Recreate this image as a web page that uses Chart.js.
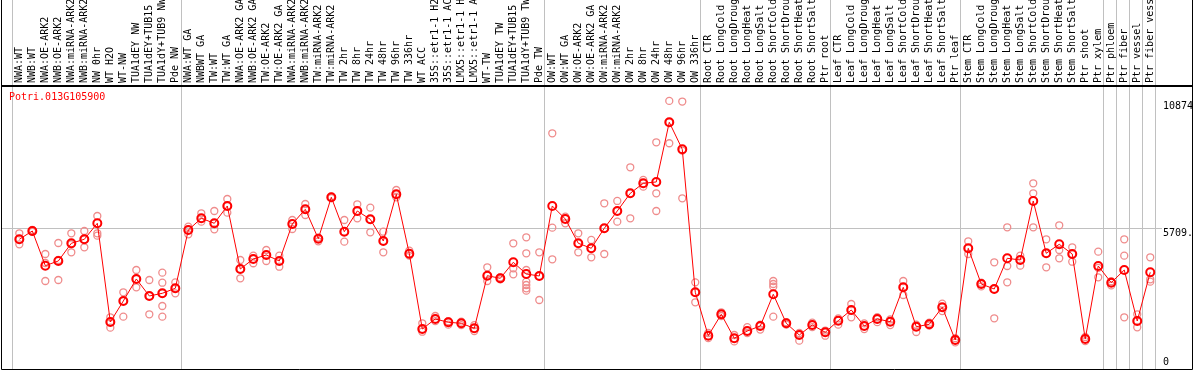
<!DOCTYPE html>
<html>
<head>
<meta charset="utf-8">
<script src="https://cdn.jsdelivr.net/npm/chart.js@4"></script>
<style>
  body { margin: 0; background: #fff; }
  canvas { display: block; }
</style>
</head>
<body>
<canvas id="grafico" width="1194" height="370"></canvas>
<script>
const geneName = 'Potri.013G105900';

const categories = [
  'NWA:WT', 'NWB:WT', 'NWA:OE-ARK2', 'NWB:OE-ARK2', 'NWA:miRNA-ARK2', 'NWB:miRNA-ARK2',
  'NW 0hr', 'WT H2O', 'WT-NW', 'TUA1dEY NW', 'TUA1dEY+TUB15 NW', 'TUA1dY+TUB9 NW', 'Pde NW',
  'NWA:WT GA', 'NWBWT GA', 'TW:WT', 'TW:WT GA', 'NWA:OE-ARK2 GA', 'NWB:OE-ARK2 GA',
  'TW:OE-ARK2', 'TW:OE-ARK2 GA', 'NWA:miRNA-ARK2', 'NWB:miRNA-ARK2', 'TW:miRNA-ARK2',
  'TW:miRNA-ARK2', 'TW 2hr', 'TW 8hr', 'TW 24hr', 'TW 48hr', 'TW 96hr', 'TW 336hr', 'WT ACC',
  '35S::etr1-1 H2O', '35S::etr1-1 ACC', 'LMX5::etr1-1 H2O', 'LMX5::etr1-1 ACC', 'WT-TW',
  'TUA1dEY TW', 'TUA1dEY+TUB15 TW', 'TUA1dY+TUB9 TW', 'Pde TW',
  'OW:WT', 'OW:WT GA', 'OW:OE-ARK2', 'OW:OE-ARK2 GA', 'OW:miRNA-ARK2', 'OW:miRNA-ARK2',
  'OW 2hr', 'OW 8hr', 'OW 24hr', 'OW 48hr', 'OW 96hr', 'OW 336hr',
  'Root CTR', 'Root LongCold', 'Root LongDrought', 'Root LongHeat', 'Root LongSalt',
  'Root ShortCold', 'Root ShortDrought', 'Root ShortHeat', 'Root ShortSalt', 'Ptr root',
  'Leaf CTR', 'Leaf LongCold', 'Leaf LongDrought', 'Leaf LongHeat', 'Leaf LongSalt',
  'Leaf ShortCold', 'Leaf ShortDrought', 'Leaf ShortHeat', 'Leaf ShortSalt', 'Ptr leaf',
  'Stem CTR', 'Stem LongCold', 'Stem LongDrought', 'Stem LongHeat', 'Stem LongSalt',
  'Stem ShortCold', 'Stem ShortDrought', 'Stem ShortHeat', 'Stem ShortSalt', 'Ptr shoot',
  'Ptr xylem', 'Ptr phloem', 'Ptr fiber', 'Ptr vessel', 'Ptr fiber vessel'
];

const meanValues = [
  5262, 5599, 4191, 4382, 5100, 5262, 5911, 1907, 2759, 3651, 2962, 3071, 3274,
  5639, 6114, 5911, 6613, 4057, 4463, 4625, 4382, 5883, 6479, 5287, 6966, 5570, 6410,
  6073, 5193, 7088, 4678, 1623, 2029, 1895, 1854, 1651, 3785, 3679, 4329, 3854, 3773,
  6613, 6086, 5100, 4897, 5708, 6410, 7128, 7534, 7587, 10009, 8913, 3112,
  1351, 2219, 1245, 1542, 1744, 3031, 1854, 1379, 1785, 1489,
  1960, 2394, 1744, 2029, 1919, 3314, 1716, 1813, 2503, 1177,
  4897, 3448, 3246, 4491, 4422, 6816, 4694, 5059, 4666, 1217, 4179,
  3501, 4016, 1947, 3923
];

const replicateValues = [
  [5505, 5262, 5059], [5640, 5599, 5560], [4666, 4300, 3570], [5112, 4423, 3611],
  [5505, 5061, 4734], [5599, 5262, 4937], [6207, 5505, 5408], [2097, 1907, 1676],
  [3112, 2759, 2122], [4016, 3651, 3314], [3611, 2962, 2219], [3907, 3501, 3071, 2556, 2122],
  [3516, 3274, 3071],
  [5773, 5639, 5464], [6317, 6114, 5976], [6410, 5911, 5667], [6897, 6613, 6341],
  [4422, 4057, 3679], [4597, 4463, 4289], [4828, 4625, 4382], [4597, 4382, 4150],
  [6045, 5883, 5680], [6694, 6479, 6248], [5330, 5287, 5180], [6993, 6966, 6930],
  [6045, 5570, 5165], [6681, 6410, 6114], [6544, 6073, 5546], [5570, 5193, 4734],
  [7262, 7088, 6966], [4800, 4678, 4600], [1854, 1623, 1513], [2150, 2029, 1940],
  [1940, 1895, 1800], [1920, 1854, 1780], [1780, 1651, 1540], [4126, 3785, 3570],
  [3720, 3679, 3640], [5100, 4085, 3842], [5343, 4694, 4016, 3542, 3408, 3274, 3177],
  [4734, 3773, 2799],
  [9562, 5733, 4450], [6179, 6086, 5911], [5505, 5100, 4734], [5234, 4897, 4532],
  [6722, 5708, 4666], [6816, 6410, 5976], [8183, 7128, 6114], [7668, 7534, 7396],
  [9197, 7128, 6410], [10874, 10009, 9157], [10850, 8857, 6925], [3516, 3112, 2706],
  [1460, 1351, 1250], [2300, 2219, 2150], [1380, 1245, 1120], [1700, 1542, 1460],
  [1800, 1744, 1600], [3570, 3448, 3339, 2122], [1900, 1854, 1800], [1460, 1379, 1150],
  [1880, 1785, 1700], [1560, 1489, 1350],
  [2050, 1960, 1800], [2637, 2394, 2097], [1850, 1744, 1620], [2100, 2029, 1900],
  [2010, 1919, 1780], [3570, 3314, 3002], [1800, 1716, 1500], [1880, 1813, 1760],
  [2650, 2503, 2350], [1250, 1177, 1080],
  [5181, 4897, 4666], [3500, 3448, 3350], [4329, 3246, 2057], [5749, 4179, 3517],
  [4597, 4422, 4191], [7534, 7128, 5749], [5262, 4694, 4126], [5830, 4828, 4491],
  [4937, 4666, 4353], [1300, 1217, 1130], [4759, 4100, 3720],
  [3560, 3501, 3390], [5262, 4597, 2097], [2219, 1947, 1692], [4532, 3639, 3542]
];

const yTickValues = [0, 5709.5, 10874];
const yTickLabels = ['0', '5709.5', '10874'];
// last category of each group, a grey separator is drawn after it
const groupEnds = [-1, 12, 40, 52, 62, 72, 83, 84, 85, 86, 87];

const meanData = meanValues.map((v, i) => ({ x: i, y: v }));
const replicateData = replicateValues.flatMap((reps, i) => reps.map(v => ({ x: i, y: v })));

const fonteMono = '"DejaVu Sans Mono", monospace';

const molduraPlugin = {
  id: 'moldura',
  beforeDatasetsDraw(chart) {
    const { ctx, chartArea, scales } = chart;
    ctx.save();
    ctx.strokeStyle = '#c0c0c0';
    ctx.lineWidth = 1;
    groupEnds.forEach(b => {
      const x = Math.round(scales.x.getPixelForValue(b + 0.4)) + 0.5;
      ctx.beginPath();
      ctx.moveTo(x, 0);
      ctx.lineTo(x, chartArea.bottom);
      ctx.stroke();
    });
    ctx.restore();
  },
  afterDraw(chart) {
    const { ctx, chartArea, scales } = chart;
    const w = chart.width;
    ctx.save();
    ctx.strokeStyle = '#000';
    ctx.lineWidth = 1;
    ctx.beginPath();
    ctx.moveTo(1.5, 0);
    ctx.lineTo(1.5, chart.height - 0.5);
    ctx.lineTo(w - 1.5, chart.height - 0.5);
    ctx.lineTo(w - 1.5, 0);
    ctx.stroke();
    ctx.lineWidth = 2;
    ctx.beginPath();
    ctx.moveTo(1, chartArea.top);
    ctx.lineTo(w - 1, chartArea.top);
    ctx.stroke();

    // nome do gene
    ctx.fillStyle = 'red';
    ctx.font = '10px ' + fonteMono;
    ctx.textBaseline = 'middle';
    ctx.textAlign = 'left';
    ctx.fillText(geneName, 9, 97);

    // rotulos do eixo y, dentro da moldura
    ctx.beginPath();
    ctx.rect(chartArea.right, chartArea.top, w - 2 - chartArea.right, chartArea.bottom - chartArea.top);
    ctx.clip();
    ctx.fillStyle = '#000';
    yTickValues.forEach((v, i) => {
      const y = scales.y.getPixelForValue(v);
      ctx.fillText(yTickLabels[i], chartArea.right + 6, v === 0 ? y - 7 : y + 5);
    });
    ctx.restore();
  }
};

new Chart(document.getElementById('grafico').getContext('2d'), {
  type: 'line',
  data: {
    datasets: [
      {
        label: 'mean',
        data: meanData,
        borderColor: 'red',
        borderWidth: 1,
        pointRadius: 4,
        pointBorderWidth: 2,
        pointBorderColor: 'red',
        pointBackgroundColor: 'rgba(0,0,0,0)',
        tension: 0,
        fill: false
      },
      {
        label: 'replicates',
        data: replicateData,
        showLine: false,
        pointRadius: 3.5,
        pointBorderWidth: 1.3,
        pointBorderColor: '#ef8c8c',
        pointBackgroundColor: 'rgba(0,0,0,0)'
      }
    ]
  },
  options: {
    responsive: false,
    animation: false,
    layout: { autoPadding: false, padding: { left: 1, right: 0, top: 0, bottom: 1 } },
    plugins: {
      legend: { display: false },
      tooltip: { enabled: false },
      title: { display: false }
    },
    scales: {
      x: {
        type: 'linear',
        position: 'top',
        min: -1.41,
        max: 87.52,
        afterBuildTicks: scale => {
          scale.ticks = categories.map((_, i) => ({ value: i }));
        },
        afterFit: scale => {
          scale.height = 86;
          scale.paddingLeft = 0;
          scale.paddingRight = 0;
        },
        grid: { display: false, drawTicks: false },
        border: { display: false },
        ticks: {
          autoSkip: false,
          minRotation: 90,
          maxRotation: 90,
          padding: 3,
          labelOffset: 12,
          color: '#000',
          font: { family: fonteMono, size: 10 },
          callback: value => categories[value]
        }
      },
      y: {
        type: 'linear',
        position: 'right',
        min: 0,
        max: 11480,
        afterBuildTicks: scale => {
          scale.ticks = yTickValues.map(v => ({ value: v }));
        },
        afterFit: scale => { scale.width = 37; },
        border: { display: false },
        grid: {
          drawTicks: true,
          tickLength: 5,
          color: ctx => (ctx.tick && ctx.tick.value === yTickValues[1]) ? '#c0c0c0' : 'rgba(0,0,0,0)'
        },
        ticks: { display: false }
      }
    }
  },
  plugins: [molduraPlugin]
});
</script>
</body>
</html>
